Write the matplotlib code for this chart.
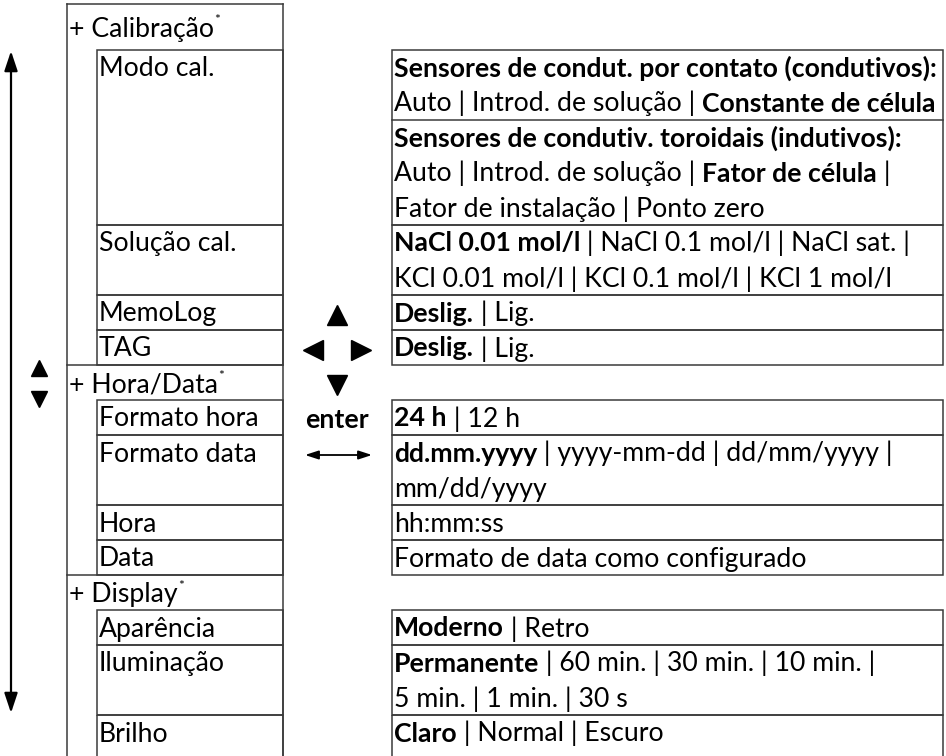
import matplotlib
matplotlib.use("Agg")
import matplotlib.pyplot as plt
from matplotlib.patches import Rectangle, FancyArrowPatch, ArrowStyle
from matplotlib.font_manager import FontProperties

# ---------------- data ----------------
groups = ["Calibração", "Hora/Data", "Display"]
group_items = [
    ["Modo cal.", "Solução cal.", "MemoLog", "TAG"],
    ["Formato hora", "Formato data", "Hora", "Data"],
    ["Aparência", "Iluminação", "Brilho"],
]
# options: per item, a list of sub-cells, each a list of lines (**bold**)
opt_modo_cal = [
    ["**Sensores de condut. por contato (condutivos):**",
     "Auto | Introd. de solução | **Constante de célula**"],
    ["**Sensores de condutiv. toroidais (indutivos):**",
     "Auto | Introd. de solução | **Fator de célula** |",
     "Fator de instalação | Ponto zero"],
]
opt_solucao = [["**NaCl 0.01 mol/l** | NaCl 0.1 mol/l | NaCl sat. |",
                "KCl 0.01 mol/l | KCl 0.1 mol/l | KCl 1 mol/l"]]
opt_memolog = [["**Deslig.** | Lig."]]
opt_tag = [["**Deslig.** | Lig."]]
opt_fhora = [["**24 h** | 12 h"]]
opt_fdata = [["**dd.mm.yyyy** | yyyy-mm-dd | dd/mm/yyyy |", "mm/dd/yyyy"]]
opt_hora = [["hh:mm:ss"]]
opt_data = [["Formato de data como configurado"]]
opt_aparencia = [["**Moderno** | Retro"]]
opt_ilum = [["**Permanente** | 60 min. | 30 min. | 10 min. |",
             "5 min. | 1 min. | 30 s"]]
opt_brilho = [["**Claro** | Normal | Escuro"]]
group_options = [
    [opt_modo_cal, opt_solucao, opt_memolog, opt_tag],
    [opt_fhora, opt_fdata, opt_hora, opt_data],
    [opt_aparencia, opt_ilum, opt_brilho],
]
enter_label = "enter"

# ---------------- layout ----------------
W, H = 946, 756
FAM = "Lato"
FS = 19.2
LINE = 35.0
LC = "#3a3a3a"
LW = 1.1

fig = plt.figure(figsize=(W / 100, H / 100), dpi=100)
ax = fig.add_axes([0, 0, 1, 1])
ax.set_xlim(0, W)
ax.set_ylim(H, 0)
ax.axis("off")
renderer = fig.canvas.get_renderer()

reg = FontProperties(family=FAM, size=FS)
bold = FontProperties(family=FAM, size=FS, weight="bold")


def width(s, prop):
    w1, _, _ = renderer.get_text_width_height_descent("|" + s + "|", prop, ismath=False)
    w0, _, _ = renderer.get_text_width_height_descent("||", prop, ismath=False)
    return w1 - w0


def rich(x, y, s):
    parts = s.split("**")
    for i, p in enumerate(parts):
        if not p:
            continue
        prop = bold if i % 2 == 1 else reg
        ax.text(x, y, p, fontproperties=prop, ha="left", va="baseline", color="black")
        x += width(p, prop)
    return x


def hline(x0, x1, y):
    ax.plot([x0, x1], [y, y], color=LC, lw=LW, solid_capstyle="projecting")


def vline(x, y0, y1):
    ax.plot([x, x], [y0, y1], color=LC, lw=LW, solid_capstyle="projecting")


XO, XI, XR = 67, 97, 283
XB0, XB1 = 392, 943
BASE = 26.5

top0, head0 = 4, 50
vline(XO, top0, H + 30)
vline(XR, top0, H + 30)
hline(XO, XR, top0)

y = head0
for gi, g in enumerate(groups):
    if gi == 0:
        htop, hbot = top0, head0
    else:
        htop, hbot = y, y + LINE
        hline(XO, XR, htop)
    hb = (htop + hbot) / 2 + 9.5
    xe = rich(XO + 2, hb, "+ " + g)
    ax.text(xe + 0.5, hb - 12, "*", fontproperties=FontProperties(family=FAM, size=10),
            ha="left", va="baseline")
    y = hbot
    n_items = len(group_items[gi])
    for k, (item, opts) in enumerate(zip(group_items[gi], group_options[gi])):
        nlines = sum(len(c) for c in opts)
        h = nlines * LINE
        last = (gi == len(groups) - 1 and k == n_items - 1)
        hd = h + 30 if last else h
        ax.add_patch(Rectangle((XI, y), XR - XI, hd, fill=False, ec=LC, lw=LW))
        rich(XI + 2, y + BASE, item)
        ax.add_patch(Rectangle((XB0, y), XB1 - XB0, hd, fill=False, ec=LC, lw=LW))
        yy = y
        for ci, cell in enumerate(opts):
            if ci > 0:
                hline(XB0, XB1, yy)
            for ln in cell:
                rich(XB0 + 2, yy + BASE, ln)
                yy += LINE
        y += h

# navigation symbols
ax.plot([337], [315], marker="^", ms=14, color="black", ls="none")
ax.plot([313], [350], marker="<", ms=14, color="black", ls="none")
ax.plot([361], [350], marker=">", ms=14, color="black", ls="none")
ax.plot([337], [385], marker="v", ms=14, color="black", ls="none")
ax.text(337, 420 + 7.5, enter_label, fontproperties=bold, ha="center", va="baseline")
ax.add_patch(FancyArrowPatch((305, 455), (372, 455),
                             arrowstyle=ArrowStyle("<|-|>", head_length=8, head_width=2.6),
                             mutation_scale=1, color="black", lw=1.3,
                             shrinkA=0, shrinkB=0))

# left scroll arrow
ax.add_patch(FancyArrowPatch((11, 51), (11, 713),
                             arrowstyle=ArrowStyle("<|-|>", head_length=12, head_width=4),
                             mutation_scale=1, color="black", lw=1.6,
                             shrinkA=0, shrinkB=0))
ax.plot([39], [368], marker="^", ms=12, color="black", ls="none")
ax.plot([39], [399], marker="v", ms=12, color="black", ls="none")

fig.savefig("out.png", dpi=100, facecolor="white")
